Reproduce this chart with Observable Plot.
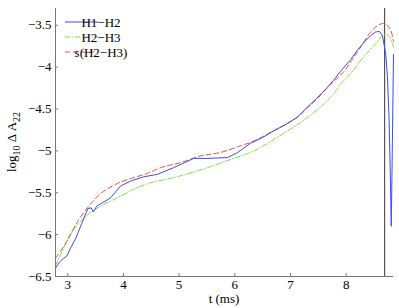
<!DOCTYPE html>
<html>
<head>
<meta charset="utf-8">
<script src="https://cdn.jsdelivr.net/npm/d3@7"></script>
<script src="https://cdn.jsdelivr.net/npm/@observablehq/plot@0.6"></script>
<style>
  html, body { margin: 0; padding: 0; background: #fff; }
  #chart { position: relative; width: 399px; height: 308px; }
  #chart svg, #chart svg text { font-family: "Liberation Serif", "Times New Roman", "DejaVu Serif", serif !important; }
</style>
</head>
<body>
<div id="chart"></div>
<script>
const seriesNames = ["H1\u2212H2", "H2\u2212H3", "s(H2\u2212H3)"];
const seriesColors = ["#3a4cf5", "#7ddc3c", "#f04848"];
const seriesDash = [null, "5,2,1,2", "5,3"];

const blueT = [2.78, 2.85, 2.93, 2.98, 3.05, 3.14, 3.25, 3.36, 3.42, 3.46, 3.52, 3.6, 3.77, 3.95, 4.13, 4.36, 4.61, 4.9, 5.1, 5.26, 5.5, 5.87, 6.05, 6.28, 6.5, 6.7, 6.9, 7.12, 7.3, 7.49, 7.65, 7.77, 7.9, 8.08, 8.2, 8.35, 8.45, 8.53, 8.6, 8.65, 8.71, 8.74, 8.77, 8.79, 8.81, 8.83, 8.85];
const blueV = [-6.40, -6.33, -6.28, -6.26, -6.16, -6.05, -5.87, -5.69, -5.68, -5.73, -5.66, -5.63, -5.56, -5.42, -5.36, -5.31, -5.28, -5.20, -5.14, -5.09, -5.09, -5.08, -5.02, -4.91, -4.84, -4.76, -4.69, -4.60, -4.48, -4.36, -4.25, -4.16, -4.05, -3.91, -3.80, -3.68, -3.62, -3.58, -3.575, -3.62, -3.84, -4.1, -4.6, -5.2, -5.9, -4.9, -3.85];

const greenT = [2.78, 2.9, 3.05, 3.29, 3.59, 3.89, 4.18, 4.49, 4.9, 5.51, 5.98, 6.28, 6.46, 6.88, 7.31, 7.72, 7.93, 8.08, 8.26, 8.42, 8.56, 8.67, 8.76, 8.83, 8.85];
const greenV = [-6.37, -6.2, -5.99, -5.80, -5.66, -5.56, -5.46, -5.38, -5.32, -5.20, -5.09, -5.02, -4.96, -4.79, -4.60, -4.36, -4.18, -4.08, -3.92, -3.80, -3.70, -3.61, -3.62, -3.72, -3.76];

const redT = [2.78, 2.96, 3.18, 3.38, 3.59, 3.89, 4.18, 4.43, 4.67, 5.03, 5.39, 5.74, 6.10, 6.28, 6.5, 6.7, 6.9, 7.12, 7.3, 7.49, 7.7, 7.95, 8.1, 8.26, 8.44, 8.55, 8.65, 8.72, 8.8, 8.85];
const redV = [-6.28, -6.11, -5.84, -5.66, -5.51, -5.39, -5.32, -5.27, -5.20, -5.14, -5.06, -5.02, -4.94, -4.90, -4.83, -4.76, -4.69, -4.60, -4.49, -4.37, -4.22, -4.06, -3.92, -3.76, -3.58, -3.51, -3.48, -3.49, -3.56, -3.70];

const xTicks = [3, 4, 5, 6, 7, 8];
const yTicks = [-6.5, -6, -5.5, -5, -4.5, -4, -3.5];
const xDomain = [2.78, 8.85];
const yDomain = [-6.5, -3.3];
const mergerT = [8.69];

const zip = (T, V) => T.map((t, i) => ({t, v: V[i]}));
const blue = zip(blueT, blueV);
const green = zip(greenT, greenV);
const red = zip(redT, redV);
const minus = d => String(d).replace("-", "\u2212");

const font = "Liberation Serif, Times New Roman, DejaVu Serif, serif";

const plot = Plot.plot({
  width: 399,
  height: 308,
  marginLeft: 55,
  marginRight: 6,
  marginTop: 8,
  marginBottom: 32,
  style: {fontFamily: font, fontSize: "13px", background: "#fff", color: "#000"},
  x: {domain: xDomain},
  y: {domain: yDomain},
  marks: [
    Plot.ruleX(mergerT, {stroke: "#555", strokeWidth: 1.2}),
    Plot.line(green, {x: "t", y: "v", stroke: seriesColors[1], strokeWidth: 1, strokeDasharray: seriesDash[1], curve: "catmull-rom"}),
    Plot.line(red, {x: "t", y: "v", stroke: seriesColors[2], strokeWidth: 1, strokeDasharray: seriesDash[2], curve: "catmull-rom"}),
    Plot.line(blue, {x: "t", y: "v", stroke: seriesColors[0], strokeWidth: 1, curve: "linear"}),
    Plot.ruleY([yDomain[0]], {stroke: "#777"}),
    Plot.ruleX([xDomain[0]], {stroke: "#777"}),
    Plot.axisX({ticks: xTicks, tickSize: -3, text: null, stroke: "#777", label: null}),
    Plot.axisY({ticks: yTicks, tickSize: -3, text: null, stroke: "#777", label: null}),
    Plot.axisX({ticks: xTicks, tickSize: 0, tickPadding: 3, tickFormat: d => String(d), label: null, fontSize: 13}),
    Plot.axisY({ticks: yTicks, tickSize: 0, tickPadding: 4, tickFormat: minus, label: null, fontSize: 13})
  ]
});

document.getElementById("chart").appendChild(plot);

const svg = d3.select(plot);
// x label
svg.append("text")
  .attr("x", 224).attr("y", 303)
  .attr("text-anchor", "middle")
  .style("font-size", "13px")
  .text("t (ms)");
// y label with subscripts
const yl = svg.append("text")
  .attr("transform", "translate(16,142) rotate(-90)")
  .attr("text-anchor", "middle")
  .style("font-size", "13px");
yl.append("tspan").text("log");
yl.append("tspan").attr("dy", 4).style("font-size", "10px").text("10");
yl.append("tspan").attr("dy", -4).text(" \u0394 A");
yl.append("tspan").attr("dy", 4).style("font-size", "10px").text("22");

// legend
const lg = svg.append("g");
seriesNames.forEach((name, i) => {
  const y = 22 + i * 15;
  lg.append("line").attr("x1", 65).attr("x2", 98).attr("y1", y).attr("y2", y)
    .attr("stroke", seriesColors[i]).attr("stroke-width", 1)
    .attr("stroke-dasharray", seriesDash[i]);
  lg.append("text").attr("x", 101).attr("y", y + 4.5)
    .style("font-size", "13px").text(name);
});
</script>
</body>
</html>
